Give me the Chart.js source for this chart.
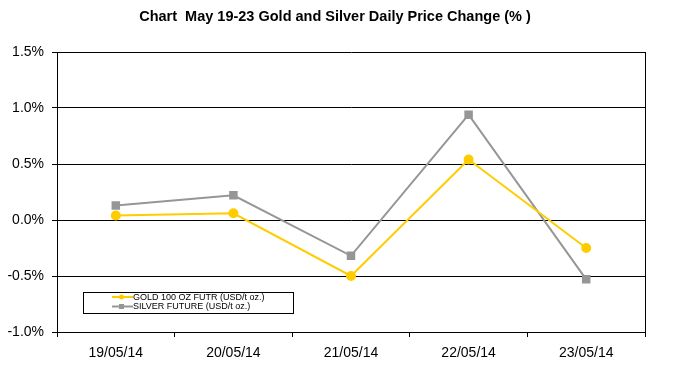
<!DOCTYPE html>
<html>
<head>
<meta charset="utf-8">
<script src="https://cdn.jsdelivr.net/npm/chart.js@4"></script>
<style>
  html, body { margin: 0; padding: 0; background: #fff; }
  #wrap { width: 681px; height: 369px; }
</style>
</head>
<body>
<div id="wrap"><canvas id="priceChart" width="681" height="369"></canvas></div>
<script>
const dates = ['19/05/14', '20/05/14', '21/05/14', '22/05/14', '23/05/14'];
const goldChange = [0.04, 0.06, -0.50, 0.54, -0.25];
const silverChange = [0.13, 0.22, -0.32, 0.94, -0.53];
const yTicks = [-1.0, -0.5, 0.0, 0.5, 1.0, 1.5];

const chartTitle = 'Chart  May 19-23 Gold and Silver Daily Price Change (% )';
const goldColor = '#FFCC00';
const silverColor = '#969696';
const font = '"Liberation Sans", Arial, sans-serif';

// title is centred a bit right of the canvas middle, as in the original
const topTitle = {
    id: 'topTitle',
    afterDraw(chart) {
        const { ctx } = chart;
        ctx.save();
        ctx.font = 'bold 14.5px ' + font;
        ctx.fillStyle = '#000';
        ctx.textAlign = 'center';
        ctx.textBaseline = 'middle';
        ctx.fillText(chartTitle, 335, 17);
        ctx.restore();
    }
};

// legend box sits inside the plot, bottom left, with a frame like Excel's
const boxLegend = {
    id: 'boxLegend',
    afterDraw(chart) {
        const { ctx, chartArea } = chart;
        const x = chartArea.left + 26, y = chartArea.bottom - 40;
        const w = 210, h = 21;
        ctx.save();
        ctx.fillStyle = '#fff';
        ctx.fillRect(x, y, w, h);
        ctx.strokeStyle = '#000';
        ctx.lineWidth = 1;
        ctx.strokeRect(x + 0.5, y + 0.5, w, h);
        ctx.font = '9px ' + font;
        ctx.textBaseline = 'middle';
        chart.data.datasets.forEach((ds, i) => {
            const rowY = y + 5 + i * 9.5;
            ctx.strokeStyle = ds.borderColor;
            ctx.lineWidth = 2;
            ctx.beginPath();
            ctx.moveTo(x + 29, rowY);
            ctx.lineTo(x + 50, rowY);
            ctx.stroke();
            ctx.fillStyle = ds.borderColor;
            if (ds.pointStyle === 'rect') {
                ctx.fillRect(x + 36, rowY - 2.5, 5, 5);
            } else {
                ctx.beginPath();
                ctx.arc(x + 38.5, rowY, 2.5, 0, Math.PI * 2);
                ctx.fill();
            }
            ctx.fillStyle = '#000';
            ctx.fillText(ds.label, x + 50, rowY + 0.5);
        });
        ctx.restore();
    }
};

// right frame line of the plot area
const rightFrame = {
    id: 'rightFrame',
    afterDraw(chart) {
        const { ctx, chartArea } = chart;
        ctx.save();
        ctx.strokeStyle = '#000';
        ctx.lineWidth = 1;
        ctx.beginPath();
        ctx.moveTo(chartArea.right + 0.5, chartArea.top);
        ctx.lineTo(chartArea.right + 0.5, chartArea.bottom + 0.5);
        ctx.stroke();
        ctx.restore();
    }
};

new Chart(document.getElementById('priceChart'), {
    type: 'line',
    data: {
        labels: dates,
        datasets: [
            {
                label: 'GOLD 100 OZ FUTR (USD/t oz.)',
                data: goldChange,
                borderColor: goldColor,
                backgroundColor: goldColor,
                borderWidth: 2,
                pointStyle: 'circle',
                pointRadius: 4,
                tension: 0
            },
            {
                label: 'SILVER FUTURE (USD/t oz.)',
                data: silverChange,
                borderColor: silverColor,
                backgroundColor: silverColor,
                borderWidth: 2,
                pointStyle: 'rect',
                pointRadius: 4.6,
                tension: 0
            }
        ]
    },
    options: {
        responsive: false,
        animation: false,
        layout: { padding: { top: 52, left: 0, right: 36, bottom: 0 } },
        plugins: {
            legend: { display: false },
            tooltip: { enabled: false },
            title: { display: false }
        },
        scales: {
            x: {
                offset: true,
                grid: {
                    offset: true,
                    drawOnChartArea: false,
                    drawTicks: true,
                    tickLength: 5,
                    color: '#000'
                },
                border: { color: '#000', width: 1 },
                ticks: {
                    color: '#000',
                    padding: 8,
                    maxRotation: 0,
                    font: { family: font, size: 14 }
                },
                afterFit(scale) { scale.height = 37; }
            },
            y: {
                min: -1.0,
                max: 1.5,
                afterBuildTicks(scale) {
                    scale.ticks = yTicks.map(v => ({ value: v }));
                },
                grid: {
                    color: '#000',
                    lineWidth: 1,
                    drawTicks: true,
                    tickLength: 5,
                    tickColor: '#000'
                },
                border: { color: '#000', width: 1 },
                ticks: {
                    color: '#000',
                    padding: 8,
                    font: { family: font, size: 14 },
                    callback: v => v.toFixed(1) + '%'
                },
                afterFit(scale) { scale.width = 57; }
            }
        }
    },
    plugins: [topTitle, boxLegend, rightFrame]
});
</script>
</body>
</html>
